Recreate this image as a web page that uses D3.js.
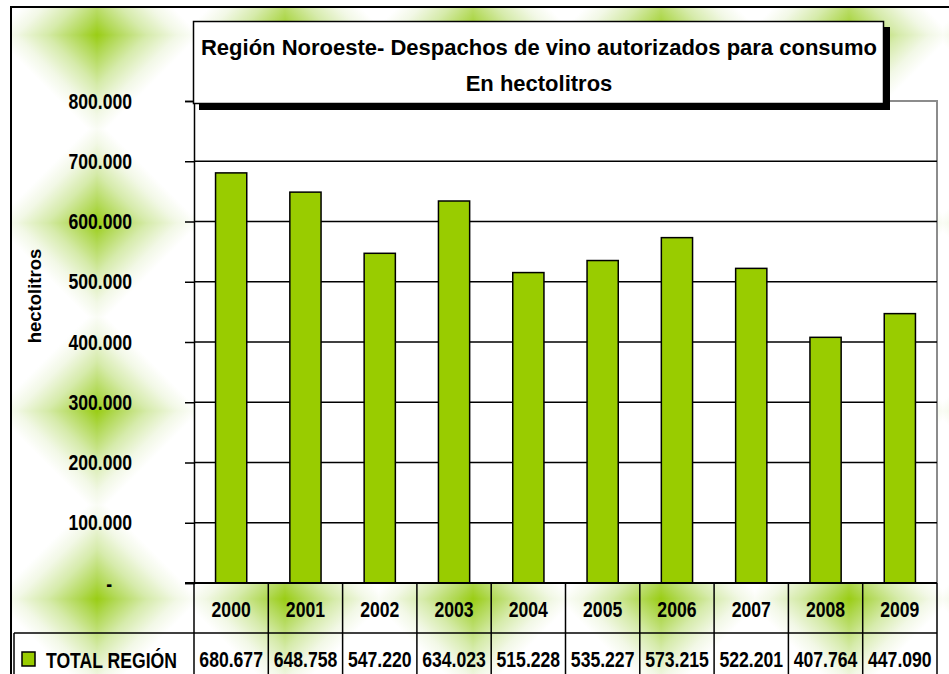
<!DOCTYPE html>
<html>
<head>
<meta charset="utf-8">
<script src="https://cdn.jsdelivr.net/npm/d3@7"></script>
<style>
  body { margin: 0; background: #fff; }
  svg { display: block; }
  text { font-family: "Liberation Sans", Arial, sans-serif; font-weight: bold; }
</style>
</head>
<body>
<svg></svg>
<script>
// data
var years = ["2000", "2001", "2002", "2003", "2004", "2005", "2006", "2007", "2008", "2009"];
var values = [680677, 648758, 547220, 634023, 515228, 535227, 573215, 522201, 407764, 447090];
var yTicks = [0, 100000, 200000, 300000, 400000, 500000, 600000, 700000, 800000];
var seriesName = "TOTAL REGIÓN";
var titleLines = ["Región Noroeste- Despachos de vino autorizados para consumo", "En hectolitros"];
var yTitle = "hectolitros";

var width = 949, height = 674;
var green = "#99cc00";

var svg = d3.select("svg")
  .attr("width", width)
  .attr("height", height);

var es = d3.formatLocale({ decimal: ",", thousands: ".", grouping: [3], currency: ["", ""] });
var fmt = es.format(",.0f");

// background texture: diamond shaped green blobs
var defs = svg.append("defs");
var quads = [[0, 0], [1, 0], [0, 1], [1, 1]];
quads.forEach(function(q, i) {
  var g = defs.append("linearGradient")
    .attr("id", "q" + i)
    .attr("x1", 1 - q[0]).attr("y1", 1 - q[1])
    .attr("x2", q[0]).attr("y2", q[1]);
  g.append("stop").attr("offset", 0).attr("stop-color", "#9acd14");
  g.append("stop").attr("offset", 0.1).attr("stop-color", "#b0d852");
  g.append("stop").attr("offset", 0.27).attr("stop-color", "#d6ebab");
  g.append("stop").attr("offset", 0.43).attr("stop-color", "#f2f8e6");
  g.append("stop").attr("offset", 0.55).attr("stop-color", "#ffffff");
  g.append("stop").attr("offset", 1).attr("stop-color", "#ffffff");
});
var tile = 188;
var pat = defs.append("pattern")
  .attr("id", "bg")
  .attr("patternUnits", "userSpaceOnUse")
  .attr("x", 97 - tile / 2).attr("y", 35 - tile / 2)
  .attr("width", tile).attr("height", tile);
quads.forEach(function(q, i) {
  pat.append("rect")
    .attr("x", q[0] * tile / 2).attr("y", q[1] * tile / 2)
    .attr("width", tile / 2).attr("height", tile / 2)
    .attr("fill", "url(#q" + i + ")");
});

svg.append("rect")
  .attr("x", 11).attr("y", 7)
  .attr("width", 960).attr("height", 700)
  .attr("fill", "url(#bg)")
  .attr("stroke", "#000")
  .attr("stroke-width", 2);

// plot area
var plotL = 194, plotR = 937, plotT = 101, plotB = 583;

var x = d3.scaleBand()
  .domain(years)
  .range([plotL, plotR])
  .padding(0);

var y = d3.scaleLinear()
  .domain([0, 800000])
  .range([plotB, plotT]);

svg.append("rect")
  .attr("x", plotL).attr("y", plotT)
  .attr("width", plotR - plotL).attr("height", plotB - plotT)
  .attr("fill", "#fff");

svg.append("path")
  .attr("d", "M" + plotL + "," + plotT + "H" + plotR + "V" + plotB)
  .attr("fill", "none")
  .attr("stroke", "#8c8c8c")
  .attr("stroke-width", 2);

svg.append("g")
  .selectAll("line")
  .data(yTicks.slice(1, -1))
  .enter()
  .append("line")
    .attr("x1", plotL).attr("x2", plotR)
    .attr("y1", d => y(d)).attr("y2", d => y(d))
    .attr("stroke", "#000")
    .attr("stroke-width", 1.5);

var barW = x.bandwidth() * 0.42;
svg.append("g")
  .selectAll("rect")
  .data(values)
  .enter()
  .append("rect")
    .attr("x", (d, i) => x(years[i]) + (x.bandwidth() - barW) / 2)
    .attr("y", d => y(d))
    .attr("width", barW)
    .attr("height", d => plotB - y(d))
    .attr("fill", green)
    .attr("stroke", "#000")
    .attr("stroke-width", 1.5);

// y axis
var yAxis = svg.append("g")
  .attr("transform", "translate(" + plotL + ",0)")
  .call(d3.axisLeft(y)
    .tickValues(yTicks)
    .tickSize(9)
    .tickPadding(53)
    .tickFormat(d => d === 0 ? "-" : fmt(d)));

yAxis.attr("font-family", null).attr("font-size", null);
yAxis.select(".domain").attr("stroke", "#000").attr("stroke-width", 1.5);
yAxis.selectAll(".tick line").attr("stroke", "#000").attr("stroke-width", 1.5);
yAxis.selectAll(".tick text")
  .classed("narrow", true)
  .attr("font-size", 22)
  .attr("fill", "#000");
yAxis.selectAll(".tick text").filter(d => d === 0)
  .attr("x", -82);

svg.append("text")
  .attr("transform", "translate(41,296) rotate(-90)")
  .attr("text-anchor", "middle")
  .attr("font-size", 18.5)
  .text(yTitle);

// data table
var rowMid = 633, rowEnd = 680;
var tbl = svg.append("g").attr("stroke", "#000").attr("stroke-width", 1.5);

tbl.append("line")
  .attr("x1", plotL - 9).attr("x2", plotR)
  .attr("y1", plotB).attr("y2", plotB)
  .attr("stroke-width", 2);
tbl.append("line")
  .attr("x1", 14).attr("x2", plotR)
  .attr("y1", rowMid).attr("y2", rowMid);
tbl.append("line")
  .attr("x1", 14).attr("x2", 14)
  .attr("y1", rowMid).attr("y2", rowEnd);
tbl.selectAll(".col")
  .data(years.concat(["end"]))
  .enter()
  .append("line")
    .attr("x1", (d, i) => plotL + i * x.step())
    .attr("x2", (d, i) => plotL + i * x.step())
    .attr("y1", plotB).attr("y2", rowEnd);

svg.append("g")
  .selectAll("text")
  .data(years)
  .enter()
  .append("text")
    .attr("class", "narrow")
    .attr("font-size", 22)
    .attr("text-anchor", "middle")
    .attr("x", d => x(d) + x.bandwidth() / 2)
    .attr("y", 617)
    .text(d => d);

svg.append("g")
  .selectAll("text")
  .data(values)
  .enter()
  .append("text")
    .attr("class", "narrow")
    .attr("font-size", 22)
    .attr("text-anchor", "middle")
    .attr("x", (d, i) => x(years[i]) + x.bandwidth() / 2)
    .attr("y", 667)
    .text(d => fmt(d));

svg.append("rect")
  .attr("x", 22).attr("y", 652)
  .attr("width", 13).attr("height", 14)
  .attr("fill", green)
  .attr("stroke", "#000")
  .attr("stroke-width", 1.5);

svg.append("text")
  .attr("class", "narrow")
  .attr("font-size", 22)
  .attr("x", 46).attr("y", 668)
  .text(seriesName);

// condensed look like Arial Narrow: squeeze horizontally around the anchor x
svg.selectAll("text.narrow").each(function() {
  var ax = +(this.getAttribute("x") || 0);
  d3.select(this)
    .attr("transform", "matrix(0.8,0,0,1," + (0.2 * ax) + ",0)");
});

// title box with shadow
svg.append("rect")
  .attr("x", 199).attr("y", 27)
  .attr("width", 691).attr("height", 83)
  .attr("fill", "#000");
svg.append("rect")
  .attr("x", 193.5).attr("y", 21.5)
  .attr("width", 690).attr("height", 82)
  .attr("fill", "#fff")
  .attr("stroke", "#000")
  .attr("stroke-width", 1.5);

svg.append("g")
  .selectAll("text")
  .data(titleLines)
  .enter()
  .append("text")
    .attr("x", 539)
    .attr("y", (d, i) => 55 + i * 36)
    .attr("text-anchor", "middle")
    .attr("font-size", 22)
    .text(d => d);
</script>
</body>
</html>
